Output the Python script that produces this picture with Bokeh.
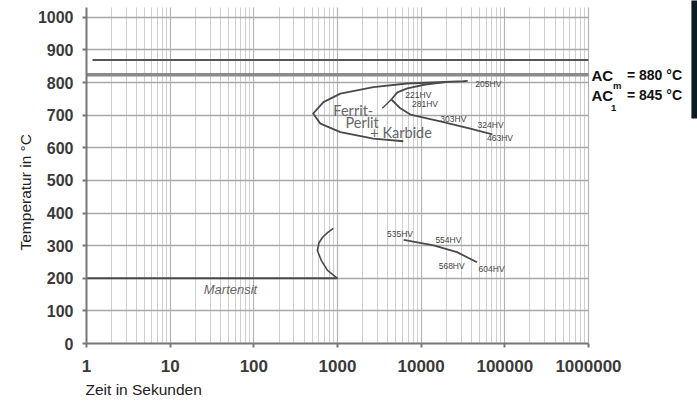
import numpy as np
from bokeh.plotting import figure
from bokeh.models import Range1d, FixedTicker, Label, BoxAnnotation, Title
from bokeh.core.properties import value
from bokeh.embed import file_html
from bokeh.resources import INLINE

# ---- data ----
x_ticks = [1, 10, 100, 1000, 10000, 100000, 1000000]
x_tick_labels = ["1", "10", "100", "1000", "10000", "100000", "1000000"]
y_ticks = [0, 100, 200, 300, 400, 500, 600, 700, 800, 900, 1000]
y_tick_labels = [str(v) for v in y_ticks]

acm_line_t = [1.18, 1000000]
acm_line_T = [869, 869]
ac1_line_t = [1, 1000000]
ac1_line_T = [824, 824]

ms_line_t = [1, 1000]
ms_line_T = [200, 200]

ms_nose_t = [1000, 760, 640, 575, 600, 660, 760, 890]
ms_nose_T = [200, 224, 255, 285, 308, 325, 340, 353]

fp_outer_t = [6125, 2686, 1083, 625, 511, 679, 1083, 2686, 6780, 31900, 36000]
fp_outer_T = [620, 628, 648, 674, 705, 740, 766, 786, 797, 804, 805]

fp_inner_t = [70900, 38700, 16950, 7430, 5640, 4406, 5200, 6840, 11220, 19460]
fp_inner_T = [641, 659, 681, 702, 721, 748, 770, 782, 794, 801]

fp_stroke_t = [3440, 4406]
fp_stroke_T = [721, 748]

bainite_t = [6180, 14100, 26800, 46600]
bainite_T = [318, 301, 280, 249]

hv_labels = ["205HV", "221HV", "281HV", "303HV", "324HV", "463HV",
             "535HV", "554HV", "568HV", "604HV"]
hv_t = [44400, 6470, 7780, 16950, 47300, 61300, 3910, 14800, 16200, 48600]
hv_T = [797, 761, 735, 689, 669, 631, 336, 316, 239, 227]

phase_labels = ["Ferrit-", "Perlit", "+ Karbide"]
phase_t = [893, 1244, 2470]
phase_T = [715, 679, 648]

ac_names = ["AC", "AC"]
ac_subs = ["m", "1"]
ac_values = ["= 880 °C", "= 845 °C"]

# ---- figure ----
X_END = 2.01e7      # frame runs on to the right edge of the page
Y_END = 1051.5      # frame runs up to the top edge of the page
p = figure(width=697, height=402, x_axis_type="log",
           x_range=Range1d(1, X_END), y_range=Range1d(0, Y_END),
           output_backend="svg", toolbar_location=None,
           min_border_left=86, min_border_right=0,
           min_border_top=0, min_border_bottom=59)
p.outline_line_color = None
p.background_fill_color = "white"
p.border_fill_color = "white"

minor_x = [k * 10 ** d for d in range(6) for k in range(2, 10)]

# grids
p.xgrid.ticker = FixedTicker(ticks=x_ticks, minor_ticks=minor_x)
p.xgrid.grid_line_color = "#b4b4b4"
p.xgrid.grid_line_width = 1.2
p.xgrid.minor_grid_line_color = "#cfcfcf"
p.xgrid.minor_grid_line_width = 1
p.xgrid.cross_bounds = (0, 1030)
p.ygrid.ticker = FixedTicker(ticks=y_ticks)
p.ygrid.grid_line_color = "#a8a8a8"
p.ygrid.grid_line_width = 1.6
p.ygrid.cross_bounds = (1, 1000000)

# axes
xa = p.xaxis[0]
xa.ticker = FixedTicker(ticks=x_ticks)
xa.bounds = (1, 1000000)
xa.major_label_overrides = {t: l for t, l in zip(x_ticks, x_tick_labels)}
ya = p.yaxis[0]
ya.ticker = FixedTicker(ticks=y_ticks)
ya.bounds = (0, 1030)
ya.major_label_overrides = {t: l for t, l in zip(y_ticks, y_tick_labels)}
for ax in (xa, ya):
    ax.axis_line_color = "#777777"
    ax.axis_line_width = 2
    ax.major_tick_line_color = "#777777"
    ax.major_tick_line_width = 2
    ax.major_tick_out = 4
    ax.major_tick_in = 0
    ax.minor_tick_line_color = None
    ax.major_label_text_font = "Liberation Sans"
    ax.major_label_text_font_style = "bold"
    ax.major_label_text_color = "#3a3a3a"
xa.major_label_text_font_size = "17px"
ya.major_label_text_font_size = "16px"
xa.major_label_standoff = 12
ya.major_label_standoff = 9

line_col = "#4a4a4a"
p.line(acm_line_t, acm_line_T, line_color="#555555", line_width=2)
p.line(ac1_line_t, ac1_line_T, line_color="#8a8a8a", line_width=3.5)
p.line(ms_line_t, ms_line_T, line_color=line_col, line_width=2)
p.line(ms_nose_t, ms_nose_T, line_color=line_col, line_width=1.6)
p.line(fp_outer_t, fp_outer_T, line_color=line_col, line_width=1.8)
p.line(fp_inner_t, fp_inner_T, line_color=line_col, line_width=1.8)
p.line(fp_stroke_t, fp_stroke_T, line_color=line_col, line_width=1.4)
p.line(bainite_t, bainite_T, line_color=line_col, line_width=1.8)

p.text(hv_t, hv_T, text=hv_labels, text_font=value("Liberation Sans"), text_font_size="8.5px",
       text_color="#444444", text_align="left", text_baseline="middle")
p.text(phase_t, phase_T, text=phase_labels, text_font=value("Lato"),
       text_font_size="14.5px", text_color="#666666", text_align="left",
       text_baseline="middle")
p.text([52.6], [166], text=["Martensit"], text_font=value("Liberation Sans"),
       text_font_style="italic", text_font_size="13px", text_color="#666666",
       text_align="center", text_baseline="middle")

# axis titles
p.add_layout(Title(text="Temperatur in °C", align="left", offset=93, standoff=2,
                   text_font="Liberation Sans", text_font_style="normal",
                   text_font_size="15.5px", text_color="#222222"), "left")
p.add_layout(Title(text="Zeit in Sekunden", align="left", offset=-1, standoff=8,
                   text_font="Liberation Sans", text_font_style="normal",
                   text_font_size="15.5px", text_color="#222222"), "below")

# AC annotations (right of the diagram)
for i, (nm, sub, val) in enumerate(zip(ac_names, ac_subs, ac_values)):
    yo = -20 * i
    sub_dy = -10 if i == 0 else -12.5
    sub_dx = 24.5 if i == 0 else 22.5
    p.add_layout(Label(x=1000000, y=822, x_offset=3, y_offset=yo, text=nm,
                       text_align="left", text_baseline="middle",
                       text_font="Liberation Sans", text_font_style="bold",
                       text_font_size="15px", text_color="#111111"))
    p.add_layout(Label(x=1000000, y=822, x_offset=sub_dx, y_offset=yo + sub_dy, text=sub,
                       text_align="left", text_baseline="middle",
                       text_font="Liberation Sans", text_font_style="bold",
                       text_font_size="9.5px", text_color="#111111"))
    p.add_layout(Label(x=1000000, y=822, x_offset=38.5, y_offset=yo, text=val,
                       text_align="left", text_baseline="middle",
                       text_font="Liberation Sans", text_font_style="bold",
                       text_font_size="14px", text_color="#111111"))

p.add_layout(BoxAnnotation(left=1.70e7, right=1e8, bottom=690, top=1200,
                           fill_color="#0c1c23", fill_alpha=1, line_color=None))

open("out.html", "w").write(file_html(p, INLINE))
